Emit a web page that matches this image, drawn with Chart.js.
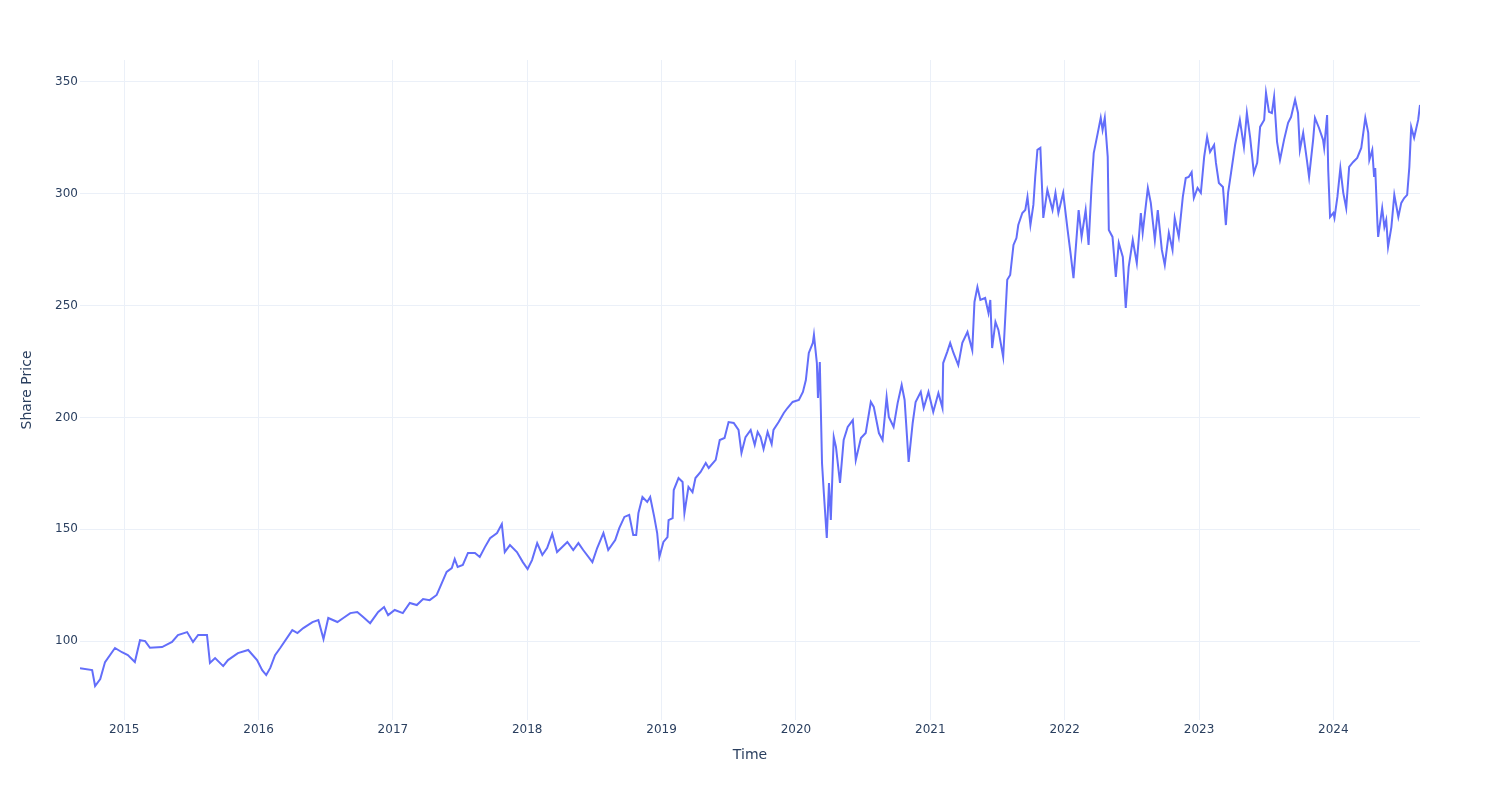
<!DOCTYPE html>
<html>
<head>
<meta charset="utf-8">
<script src="https://cdn.jsdelivr.net/npm/chart.js@4.4.1/dist/chart.umd.min.js"></script>
<style>
  html, body { margin: 0; padding: 0; background: #fff; }
  #wrap { width: 1500px; height: 800px; position: relative; }
</style>
</head>
<body>
<div id="wrap"><canvas id="myChart"></canvas></div>
<script>
// share price (approximate)
var dates = [
  '2014-09-03','2014-10-06','2014-10-14','2014-10-28','2014-11-10','2014-12-07','2014-12-26',
  '2015-01-11','2015-01-30','2015-02-13','2015-02-27','2015-03-12','2015-04-14','2015-05-11','2015-05-27',
  '2015-06-21','2015-07-07','2015-07-21','2015-08-14','2015-08-22','2015-09-05','2015-09-27','2015-10-10',
  '2015-11-06','2015-12-04','2015-12-28',
  '2016-01-11','2016-01-22','2016-02-02','2016-02-15','2016-02-29','2016-04-02','2016-04-16','2016-05-02',
  '2016-05-27','2016-06-12','2016-06-26','2016-07-09','2016-08-03','2016-08-19','2016-09-07','2016-09-26',
  '2016-10-12','2016-10-31','2016-11-22','2016-12-08','2016-12-19',
  '2017-01-06','2017-01-28','2017-02-16','2017-03-07','2017-03-24','2017-04-11','2017-04-30','2017-05-08',
  '2017-05-27','2017-06-10','2017-06-18','2017-06-26','2017-07-10','2017-07-24','2017-08-12','2017-08-25',
  '2017-09-08','2017-09-22','2017-10-11','2017-10-24','2017-11-01','2017-11-15','2017-12-04','2017-12-20',
  '2018-01-02','2018-01-14','2018-01-28','2018-02-11','2018-02-24','2018-03-10','2018-03-23','2018-04-20',
  '2018-05-06','2018-05-20','2018-06-02','2018-06-27','2018-07-10','2018-07-27','2018-08-09','2018-08-28',
  '2018-09-08','2018-09-22','2018-10-05','2018-10-16','2018-10-24','2018-10-30','2018-11-10','2018-11-23',
  '2018-12-01','2018-12-12','2018-12-20','2018-12-26',
  '2019-01-06','2019-01-17','2019-01-20','2019-01-31','2019-02-03','2019-02-16','2019-02-27','2019-03-04',
  '2019-03-15','2019-03-26','2019-04-03','2019-04-17','2019-05-01','2019-05-09','2019-05-28','2019-06-08',
  '2019-06-21','2019-07-02','2019-07-16','2019-07-29','2019-08-06','2019-08-17','2019-08-31','2019-09-11',
  '2019-09-19','2019-09-27','2019-10-05','2019-10-16','2019-10-27','2019-11-01','2019-11-15','2019-11-29',
  '2019-12-09','2019-12-23',
  '2020-01-09','2020-01-20','2020-01-28','2020-02-05','2020-02-16','2020-02-19','2020-02-27','2020-03-01',
  '2020-03-06','2020-03-12','2020-03-17','2020-03-25','2020-03-31','2020-04-05','2020-04-13','2020-04-19',
  '2020-04-30','2020-05-10','2020-05-21','2020-06-04','2020-06-12','2020-06-26','2020-07-09','2020-07-23',
  '2020-07-31','2020-08-14','2020-08-24','2020-09-04','2020-09-10','2020-09-23','2020-10-04','2020-10-15',
  '2020-10-23','2020-11-03','2020-11-14','2020-11-22','2020-12-06','2020-12-14','2020-12-27',
  '2021-01-09','2021-01-23','2021-02-03','2021-02-05','2021-02-16','2021-02-24','2021-03-05','2021-03-18',
  '2021-03-29','2021-04-12','2021-04-25','2021-05-01','2021-05-09','2021-05-17','2021-05-30','2021-06-08',
  '2021-06-13','2021-06-18','2021-06-27','2021-07-05','2021-07-18','2021-07-29','2021-08-06','2021-08-15',
  '2021-08-23','2021-08-28','2021-09-08','2021-09-16','2021-09-22','2021-09-30','2021-10-08','2021-10-13',
  '2021-10-19','2021-10-27','2021-11-04','2021-11-15','2021-11-29','2021-12-07','2021-12-15','2021-12-28',
  '2022-01-09','2022-01-17','2022-01-25','2022-02-08','2022-02-16','2022-02-27','2022-03-07','2022-03-15',
  '2022-03-21','2022-04-01','2022-04-09','2022-04-14','2022-04-20','2022-04-28','2022-05-01','2022-05-11',
  '2022-05-20','2022-05-28','2022-06-08','2022-06-16','2022-06-24','2022-07-05','2022-07-16','2022-07-27',
  '2022-08-01','2022-08-15','2022-08-23','2022-09-03','2022-09-11','2022-09-22','2022-09-30','2022-10-11',
  '2022-10-21','2022-10-27','2022-11-07','2022-11-18','2022-11-26','2022-12-04','2022-12-12','2022-12-18',
  '2022-12-28',
  '2023-01-06','2023-01-15','2023-01-23','2023-01-31','2023-02-11','2023-02-16','2023-02-24','2023-03-07',
  '2023-03-15','2023-03-21','2023-03-29','2023-04-09','2023-04-22','2023-05-03','2023-05-11','2023-05-20',
  '2023-05-30','2023-06-08','2023-06-16','2023-06-27','2023-07-02','2023-07-10','2023-07-18','2023-07-24',
  '2023-08-01','2023-08-09','2023-08-20','2023-08-31','2023-09-08','2023-09-19','2023-09-27','2023-10-02',
  '2023-10-11','2023-10-21','2023-10-27','2023-11-07','2023-11-12','2023-11-23','2023-12-04','2023-12-07',
  '2023-12-15','2023-12-18','2023-12-23',
  '2024-01-01','2024-01-04','2024-01-12','2024-01-20','2024-01-28','2024-02-05','2024-02-13','2024-02-24',
  '2024-03-06','2024-03-17','2024-03-28','2024-04-05','2024-04-08','2024-04-16','2024-04-21','2024-04-24',
  '2024-04-30','2024-05-02','2024-05-13','2024-05-19','2024-05-24','2024-05-29','2024-06-07','2024-06-15',
  '2024-06-26','2024-07-04','2024-07-12','2024-07-20','2024-07-26','2024-07-31','2024-08-08','2024-08-19',
  '2024-08-24'
];

var prices = [
  87.9, 87.0, 79.9, 83.0, 90.6, 96.9, 95.0,
  93.7, 90.6, 100.4, 100.0, 97.0, 97.3, 99.6, 102.7,
  104.0, 99.6, 102.7, 102.7, 90.2, 92.4, 88.8, 91.5,
  94.6, 96.0, 91.5,
  87.0, 84.8, 88.0, 93.7, 96.9, 104.9, 103.6, 105.8,
  108.5, 109.4, 100.9, 110.3, 108.5, 110.3, 112.5, 113.0,
  110.7, 108.0, 113.0, 115.2, 111.6,
  113.9, 112.5, 117.0, 116.1, 118.8, 118.3, 120.6, 123.7,
  130.9, 132.6, 136.7, 133.1, 134.0, 139.4, 139.4, 137.6,
  142.0, 146.0, 148.3, 152.3, 139.8, 142.9, 139.8, 135.3,
  132.2, 136.2, 143.8, 138.5, 141.6, 147.9, 139.8, 144.3,
  140.7, 143.8, 140.7, 135.3, 141.6, 148.3, 140.7, 145.2,
  150.5, 155.5, 156.4, 147.4, 147.4, 157.2, 164.4, 162.2,
  164.4, 155.5, 148.3, 137.6,
  144.3, 146.5, 154.1, 155.0, 167.5, 172.9, 171.1, 157.2,
  168.9, 166.6, 172.9, 175.6, 179.6, 177.4, 181.0, 189.9,
  190.8, 197.9, 197.5, 194.4, 184.1, 191.2, 194.4, 187.7,
  193.5, 191.2, 185.9, 193.5, 188.1, 194.4, 197.9, 202.0,
  204.2, 206.9,
  207.8, 211.4, 216.7, 228.8, 233.3, 236.9, 224.3, 208.7,
  224.8, 179.6, 166.2, 146.1, 170.7, 154.1, 191.2, 186.8,
  170.7, 189.9, 195.7, 198.8, 180.9, 190.8, 193.0, 206.9,
  204.7, 193.0, 189.9, 209.1, 200.2, 195.7, 206.4, 214.5,
  207.8, 180.1, 197.5, 206.9, 211.4, 204.2, 211.4,
  202.4, 210.9, 204.2, 224.3, 229.3, 233.3, 228.8, 223.4,
  233.3, 238.2, 230.1, 251.6, 258.3, 252.5, 253.4, 246.7,
  252.5, 231.0, 242.7, 239.1, 227.0, 261.5, 263.7, 277.1,
  280.2, 286.0, 291.4, 292.7, 298.6, 286.0, 295.0, 307.5,
  319.6, 320.5, 289.2, 301.7, 292.7, 300.4, 291.4, 300.4,
  283.8, 273.5, 262.3, 292.7, 280.7, 292.7, 277.1, 303.0,
  318.2, 327.2, 333.9, 328.5, 333.9, 316.5, 283.8, 280.7,
  262.8, 278.0, 271.7, 248.9, 267.3, 279.3, 269.0, 291.4,
  282.5, 302.6, 295.9, 279.3, 292.7, 274.9, 268.2, 282.5,
  274.9, 289.2, 280.7, 298.6, 307.0, 307.5, 309.7, 298.1,
  302.6,
  300.4, 316.5, 325.4, 318.7, 321.8, 313.8, 304.8, 303.0,
  286.0, 300.4, 309.3, 321.8, 333.0, 320.9, 336.1, 325.0,
  309.3, 313.8, 329.9, 333.0, 345.1, 336.6, 336.1, 343.3,
  323.2, 315.1, 324.1, 331.7, 334.3, 342.0, 336.1, 319.6,
  327.2, 315.1, 307.5, 324.1, 333.9, 329.4, 324.1, 320.5,
  335.2, 310.6, 289.6,
  291.4, 289.2, 298.6, 311.5, 300.4, 293.6, 312.0, 314.2,
  316.0, 320.5, 333.9, 327.2, 315.1, 319.6, 307.5, 311.5,
  286.9, 280.7, 293.6, 285.1, 288.3, 276.2, 285.1, 299.5,
  289.6, 295.9, 298.1, 299.5, 312.0, 329.9, 325.0, 333.0,
  339.7
];

var yearTicks = [2015, 2016, 2017, 2018, 2019, 2020, 2021, 2022, 2023, 2024];
var priceTicks = [100, 150, 200, 250, 300, 350];

// date string -> decimal year, so a linear axis can be used (no date adapter)
function toYear(s) {
  var p = s.split('-').map(Number);
  var start = Date.UTC(p[0], 0, 1);
  var end = Date.UTC(p[0] + 1, 0, 1);
  return p[0] + (Date.UTC(p[0], p[1] - 1, p[2]) - start) / (end - start);
}

var points = dates.map((d, i) => ({ x: toYear(d), y: prices[i] }));

var font = "'DejaVu Sans', Verdana, sans-serif";
var textColor = '#2a3f5f';
var gridColor = '#ebf0f8';

var ctx = document.getElementById('myChart').getContext('2d');
var myChart = new Chart(ctx, {
  type: 'line',
  data: {
    datasets: [{
      label: 'Share Price',
      data: points,
      borderColor: '#636efa',
      borderWidth: 2,
      pointRadius: 0,
      tension: 0,
      fill: false
    }]
  },
  options: {
    responsive: true,
    maintainAspectRatio: false,
    animation: false,
    layout: { padding: { top: 60, right: 80, left: 0, bottom: 0 } },
    plugins: {
      legend: { display: false },
      tooltip: { enabled: false }
    },
    scales: {
      x: {
        type: 'linear',
        min: points[0].x,
        max: points[points.length - 1].x,
        afterBuildTicks: axis => { axis.ticks = yearTicks.map(v => ({ value: v })); },
        afterFit: axis => { axis.height = 80; },
        grid: { color: gridColor, drawTicks: false },
        border: { display: false },
        ticks: {
          padding: 3,
          color: textColor,
          font: { family: font, size: 12 },
          maxRotation: 0,
          callback: v => String(v)
        },
        title: {
          display: true,
          text: 'Time',
          color: textColor,
          font: { family: font, size: 14 },
          padding: { top: 0, bottom: 36 }
        }
      },
      y: {
        min: 64.7,
        max: 359.8,
        afterBuildTicks: axis => { axis.ticks = priceTicks.map(v => ({ value: v })); },
        afterFit: axis => { axis.width = 80; },
        grid: { color: gridColor, drawTicks: false },
        border: { display: false },
        ticks: {
          padding: 2,
          color: textColor,
          font: { family: font, size: 12 }
        },
        title: {
          display: true,
          text: 'Share Price',
          color: textColor,
          font: { family: font, size: 14 },
          padding: { top: 19, bottom: 0 }
        }
      }
    }
  }
});
</script>
</body>
</html>
